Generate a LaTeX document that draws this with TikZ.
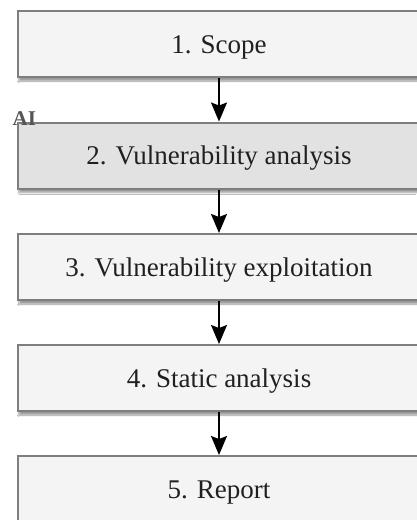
\documentclass[tikz,border=0pt]{standalone}
\usepackage{fontspec}
\setmainfont{Liberation Serif}
\usetikzlibrary{arrows.meta,shadows.blur}
\definecolor{boxfill}{HTML}{F4F4F4}
\definecolor{aifill}{HTML}{E2E2E2}
\definecolor{boxline}{HTML}{7E7E7E}
\definecolor{txt}{HTML}{202020}
\definecolor{tagtxt}{HTML}{555555}
\tikzset{
  stepbox/.style={draw=boxline, line width=2pt, fill=boxfill,
    minimum width=402pt, minimum height=66pt, inner sep=0pt,
    text height=20pt, text depth=2pt,
    text=txt, font=\fontsize{27}{30}\selectfont,
    blur shadow={shadow xshift=1pt, shadow yshift=-4pt, shadow blur steps=6, shadow opacity=40}},
  aibox/.style={stepbox, fill=aifill},
  flow/.style={line width=1.6pt, -{Stealth[length=19pt,width=16pt,inset=3pt]}},
  tag/.style={font=\fontsize{21}{23}\selectfont\bfseries, text=tagtxt, inner sep=0pt, anchor=base west}
}
\begin{document}
\begin{tikzpicture}[x=1pt,y=-1pt]
  \useasboundingbox[fill=white] (0,0) rectangle (416,520);
  \node[stepbox] (s1) at (219,44)    {1. Scope};
  \node[aibox]   (s2) at (219,155.5) {2. Vulnerability analysis};
  \node[stepbox] (s3) at (219,267)   {3. Vulnerability exploitation};
  \node[stepbox] (s4) at (219,378)   {4. Static analysis};
  \node[stepbox] (s5) at (219,489)   {5. Report};
  \node[tag] (ai) at (12.5,125) {AI};
  \draw[flow] (s1.south) -- (s2.north);
  \draw[flow] (s2.south) -- (s3.north);
  \draw[flow] (s3.south) -- (s4.north);
  \draw[flow] (s4.south) -- (s5.north);
\end{tikzpicture}
\end{document}
